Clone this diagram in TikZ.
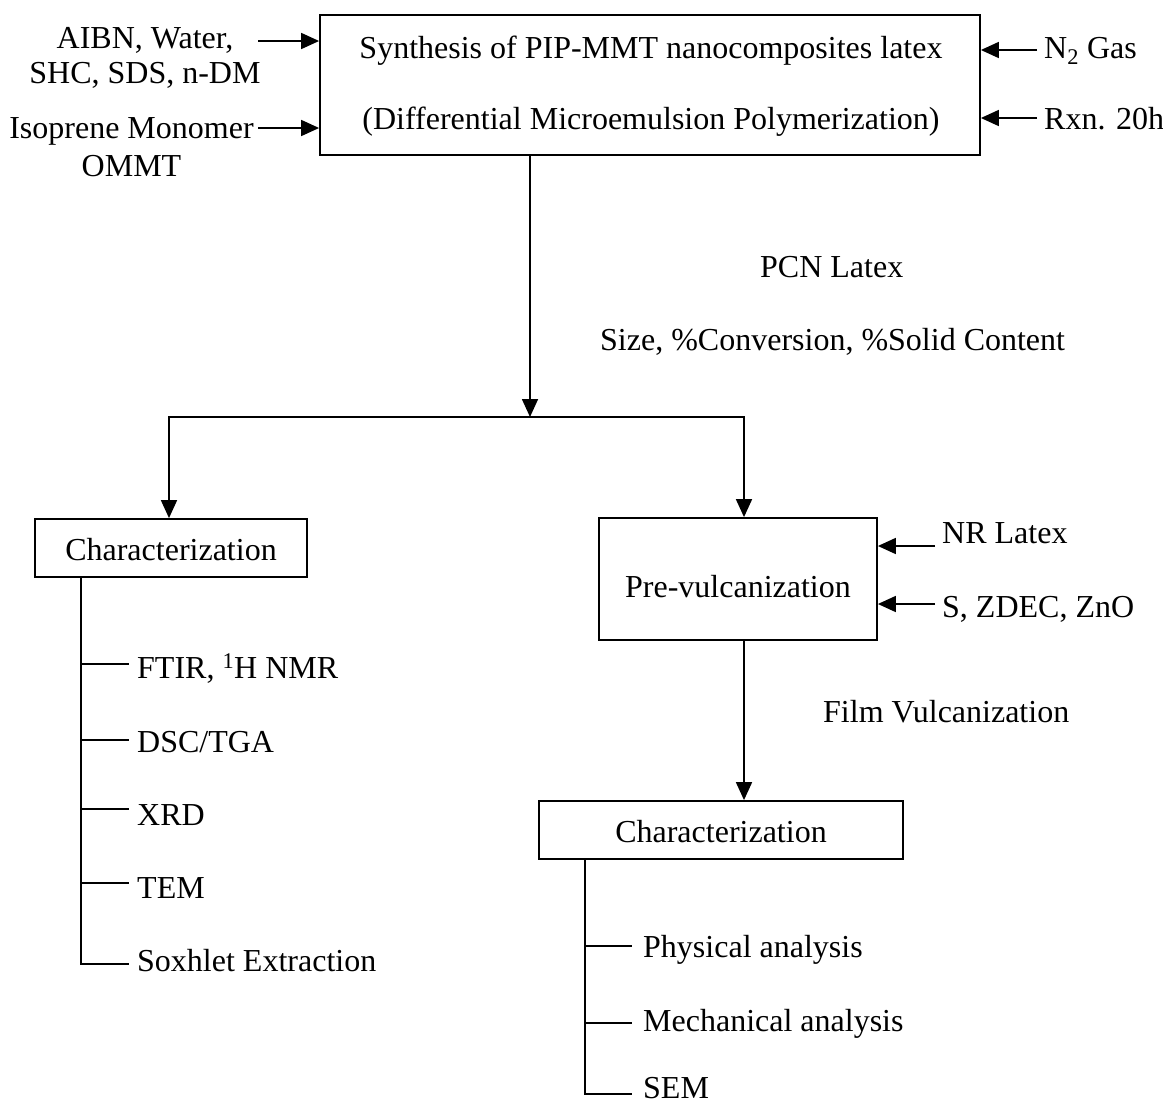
\documentclass[tikz,border=0pt]{standalone}
\usepackage{fontspec}
\setmainfont{Liberation Serif}
\usetikzlibrary{arrows.meta}
\begin{document}
\begin{tikzpicture}[x=1pt,y=-1pt,
  every node/.style={font=\fontsize{32}{38}\selectfont, inner sep=0pt},
  box/.style={draw, line width=1.8pt, rectangle, text height=24pt, text depth=0pt},
  txt/.style={anchor=base},
  item/.style={anchor=base west},
  conn/.style={line width=1.7pt},
  arr/.style={line width=1.7pt, -{Triangle[length=18pt,width=16pt]}},
  darr/.style={line width=1.7pt, {Triangle[length=18pt,width=16pt]}-{Triangle[length=18pt,width=16pt]}}]
\useasboundingbox (0,0) rectangle (1163,1106);

% main synthesis box
\node[box, minimum width=660pt, minimum height=140pt] (syn) at (650,85) {};
\node[txt] (syn1) at (651,58) {Synthesis of PIP-MMT nanocomposites latex};
\node[txt] (syn2) at (651,129) {(Differential Microemulsion Polymerization)};

% left inputs
\node[txt] (in1a) at (145,48) {AIBN, Water,};
\node[txt] (in1b) at (145,83) {SHC, SDS, n-DM};
\node[txt] (in2a) at (131.5,138) {Isoprene Monomer};
\node[txt] (in2b) at (131.5,176) {OMMT};
\coordinate (in1s) at (258,41);
\coordinate (in2s) at (258,128);
\draw[arr] (in1s) -- (syn.west |- in1s);
\draw[arr] (in2s) -- (syn.west |- in2s);

% right inputs
\node[item] (n2) at (1044,58) {N\textsubscript{2} Gas};
\node[item] (rxn) at (1044,129) {Rxn. 20h};
\coordinate (n2s) at (1037,50);
\coordinate (rxns) at (1037,118);
\draw[arr] (n2s) -- (syn.east |- n2s);
\draw[arr] (rxns) -- (syn.east |- rxns);

% PCN latex labels
\node[item] (pcn) at (760,277) {PCN Latex};
\node[item] (size) at (600,350) {Size, \%Conversion, \%Solid Content};

% split
\coordinate (split) at (530,417);
\coordinate (jl) at (169,417);
\coordinate (jr) at (744,417);
\draw[arr] (syn.south -| split) -- (split);

% characterization 1
\node[box, minimum width=272pt, minimum height=58pt] (char1) at (171,548) {Characterization};
% pre-vulcanization
\node[box, minimum width=278pt, minimum height=122pt, text height=36pt] (pre) at (738,579) {Pre-vulcanization};

\draw[darr] (jl |- char1.north) -- (jl) -- (jr) -- (jr |- pre.north);

% pre-vulc inputs
\node[item] (nr) at (942,543) {NR Latex};
\node[item] (szz) at (942,617) {S, ZDEC, ZnO};
\coordinate (nrs) at (935,546);
\coordinate (szzs) at (935,604);
\draw[arr] (nrs) -- (pre.east |- nrs);
\draw[arr] (szzs) -- (pre.east |- szzs);

% film vulcanization
\node[box, minimum width=364pt, minimum height=58pt] (char2) at (721,830) {Characterization};
\draw[arr] (jr |- pre.south) -- (jr |- char2.north);
\node[item] (film) at (823,722) {Film Vulcanization};

% left list
\coordinate (lt) at (81,0);
\coordinate (lb1) at (129,664);
\coordinate (lb2) at (129,740);
\coordinate (lb3) at (129,809);
\coordinate (lb4) at (129,883);
\coordinate (lb5) at (129,964);
\node[item] (ftir) at (137,678) {FTIR, \textsuperscript{1}H NMR};
\node[item] (dsc) at (137,752) {DSC/TGA};
\node[item] (xrd) at (137,825) {XRD};
\node[item] (tem) at (137,898) {TEM};
\node[item] (sox) at (137,971) {Soxhlet Extraction};
\draw[conn] (lt |- char1.south) -- (lt |- lb5) -- (lb5);
\draw[conn] (lt |- lb1) -- (lb1);
\draw[conn] (lt |- lb2) -- (lb2);
\draw[conn] (lt |- lb3) -- (lb3);
\draw[conn] (lt |- lb4) -- (lb4);

% right list
\coordinate (rt) at (585,0);
\coordinate (rb1) at (632,946);
\coordinate (rb2) at (632,1023);
\coordinate (rb3) at (632,1094);
\node[item] (phys) at (643,957) {Physical analysis};
\node[item] (mech) at (643,1031) {Mechanical analysis};
\node[item] (sem) at (643,1098) {SEM};
\draw[conn] (rt |- char2.south) -- (rt |- rb3) -- (rb3);
\draw[conn] (rt |- rb1) -- (rb1);
\draw[conn] (rt |- rb2) -- (rb2);
\end{tikzpicture}
\end{document}
